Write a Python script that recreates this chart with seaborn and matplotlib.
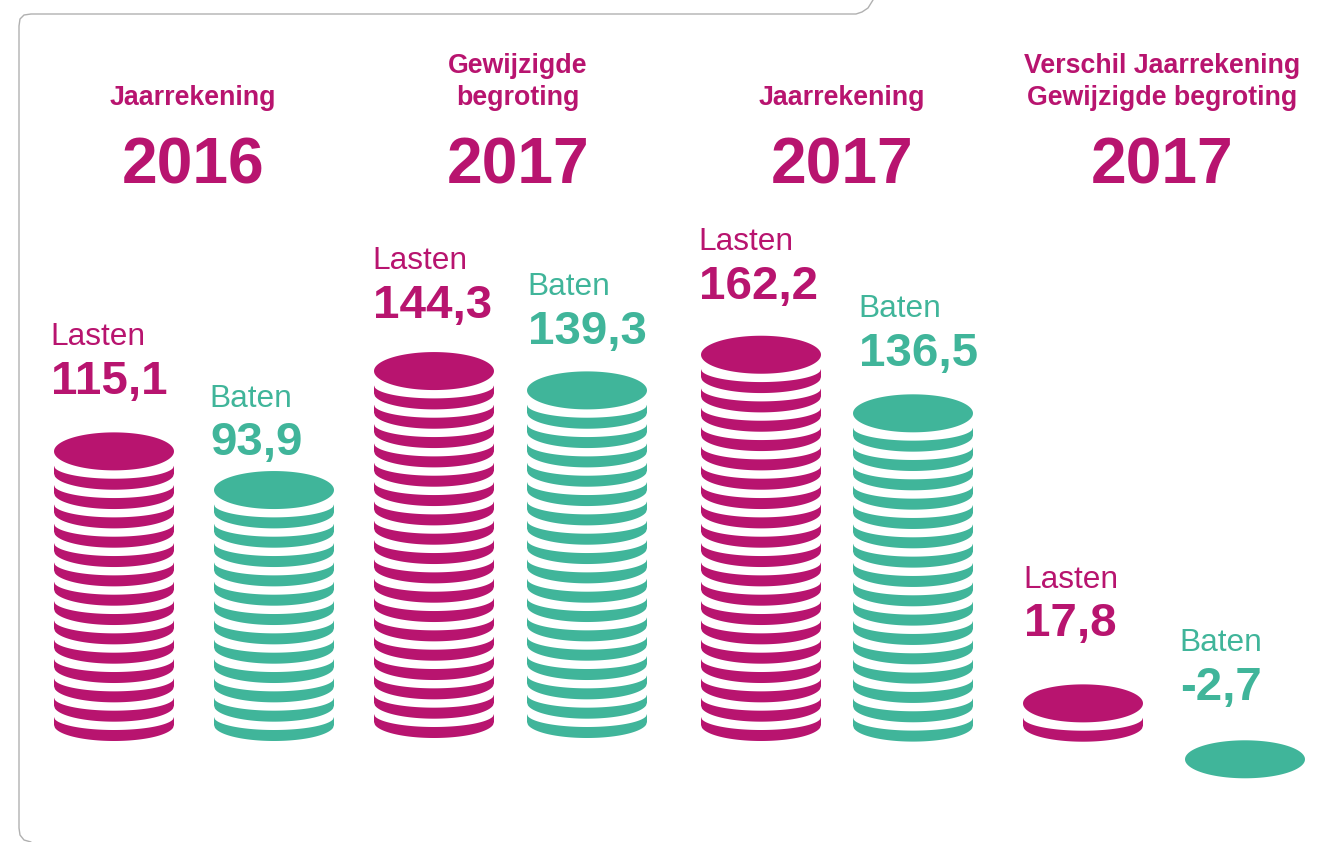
import numpy as np
import pandas as pd
import matplotlib
matplotlib.use("Agg")
import matplotlib.pyplot as plt
from matplotlib.path import Path
import seaborn as sns

# --- data ---
headings = ["Jaarrekening", "Gewijzigde\nbegroting", "Jaarrekening",
            "Verschil Jaarrekening\nGewijzigde begroting"]
years = ["2016", "2017", "2017", "2017"]
series = ["Lasten", "Baten", "Lasten", "Baten", "Lasten", "Baten", "Lasten", "Baten"]
values = ["115,1", "93,9", "144,3", "139,3", "162,2", "136,5", "17,8", "-2,7"]
coins_under_top = [14, 12, 18, 17, 19, 16, 1, 0]

# --- layout (pixel coordinates of the 1329x842 canvas) ---
W, H, DPI = 1329, 842, 100
MAGENTA, GREEN = "#B8146F", "#40B59A"
palette = {"Lasten": MAGENTA, "Baten": GREEN}
FONT = "Liberation Sans"
stack_x = [114, 274, 434, 587, 761, 913, 1083, 1245]
stack_base = [722, 722, 719, 719, 722, 722.6, 722.7, 759.3]
label_x = [50, 209, 372, 527, 698, 858, 1023, 1179]
label_y = [345, 407, 269, 295, 250, 317, 588, 651]
value_y = [394, 455, 318, 344, 299, 366, 636, 700]
head_x = [193, 518, 842, 1162.5]
PITCH = 19.33
COIN_W, COIN_H = 120, 38

a, b = COIN_W / 2, COIN_H / 2
t = np.linspace(0, 2 * np.pi, 121)
top_marker = Path(np.column_stack([a * np.cos(t), b * np.sin(t)]), closed=True)
xs = np.linspace(-a, a, 121)
roundness = np.sqrt(np.clip(1 - (xs / a) ** 2, 0, 1))
lower = -3.0 - 16.0 * roundness
upper = 5.0 - 13.0 * roundness
ring_marker = Path(np.vstack([np.column_stack([xs, lower]),
                              np.column_stack([xs[::-1], upper[::-1]]),
                              [[xs[0], lower[0]]]]), closed=True)

rows_top, rows_ring = [], []
for x, base, n, s in zip(stack_x, stack_base, coins_under_top, series):
    for i in range(n):
        rows_ring.append({"x": x, "y": base - i * PITCH, "series": s})
    rows_top.append({"x": x, "y": base - n * PITCH, "series": s})
df_top, df_ring = pd.DataFrame(rows_top), pd.DataFrame(rows_ring)

sns.set_theme(style="white")
plt.rcParams["font.family"] = [FONT, "DejaVu Sans"]
fig = plt.figure(figsize=(W / DPI, H / DPI), dpi=DPI, facecolor="white")
ax = fig.add_axes([0, 0, 1, 1])

size = (COIN_W * 72 / DPI) ** 2
sns.scatterplot(data=df_ring, x="x", y="y", hue="series", palette=palette, marker=ring_marker,
                s=size, linewidth=0, legend=False, ax=ax)
sns.scatterplot(data=df_top, x="x", y="y", hue="series", palette=palette, marker=top_marker,
                s=size, linewidth=0, legend=False, ax=ax)
ax.set_xlim(0, W)
ax.set_ylim(H, 0)
ax.axis("off")

# panel outline
fx = [873, 868, 862, 856, 31, 24, 20, 19, 19, 20, 24, 31]
fy = [0, 8, 12, 14, 14, 15, 19, 26, 828, 835, 840, 842]
ax.plot(fx, fy, color="#B0B0B0", lw=1.0, solid_capstyle="round")

for hx, head, yr in zip(head_x, headings, years):
    lines = head.split("\n")
    baselines = [105] if len(lines) == 1 else [73, 105]
    for line, by in zip(lines, baselines):
        ax.text(hx, by, line, ha="center", va="baseline", fontsize=19.3,
                fontweight="bold", color=MAGENTA)
    ax.text(hx, 183, yr, ha="center", va="baseline", fontsize=46.2,
            fontweight="bold", color=MAGENTA)

for lx, ly, vy, s, v in zip(label_x, label_y, value_y, series, values):
    ax.text(lx, ly, s, ha="left", va="baseline", fontsize=22.8, color=palette[s])
    ax.text(lx + 1, vy, v, ha="left", va="baseline", fontsize=34.2,
            fontweight="bold", color=palette[s])

fig.savefig("out.png", dpi=DPI, facecolor="white")
